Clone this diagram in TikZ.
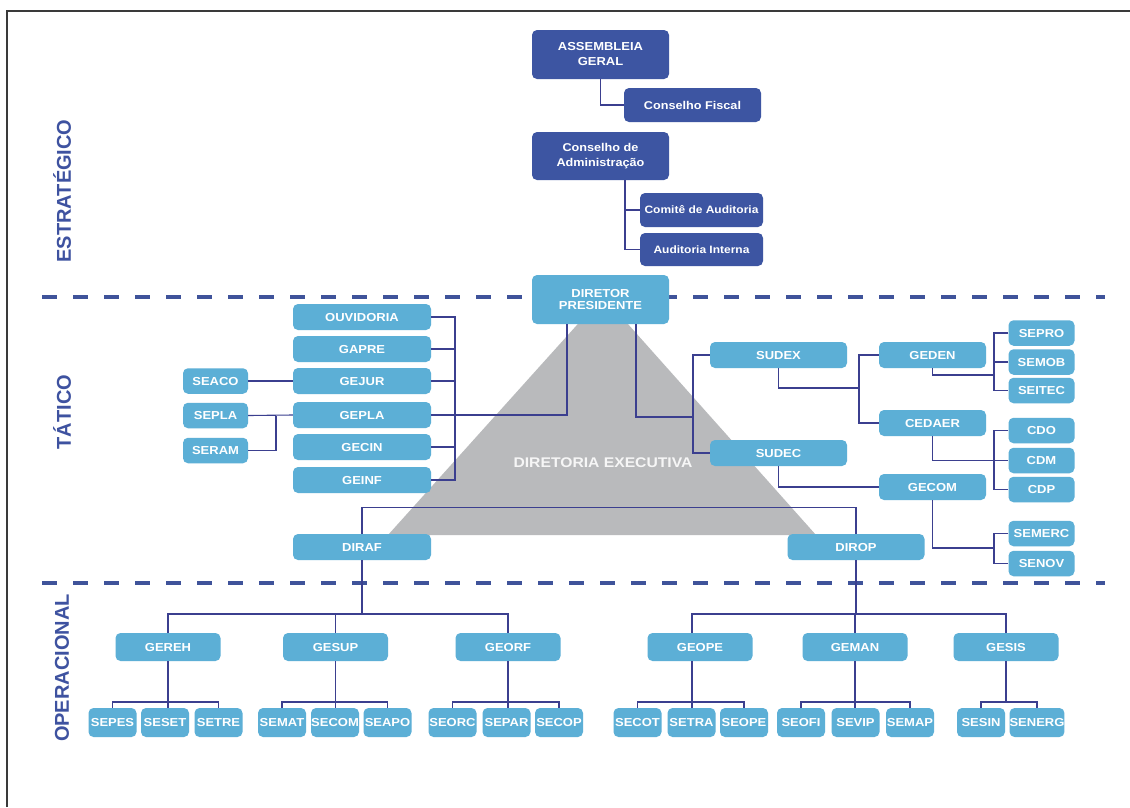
\documentclass[tikz,border=0pt]{standalone}
\usepackage{fontspec}
\setmainfont{Liberation Sans}[FakeStretch=1.12]
\newfontfamily\sidefont{Liberation Sans}
\usetikzlibrary{calc}
\definecolor{dkbox}{HTML}{3D55A2}
\definecolor{ltbox}{HTML}{5CAFD6}
\definecolor{conncol}{HTML}{3B3F8F}
\definecolor{dashcol}{HTML}{3F539A}
\definecolor{tricol}{HTML}{B9BABC}
\definecolor{sidecol}{HTML}{3E52A0}
\definecolor{framecol}{HTML}{3A3A3A}
\begin{document}
\begin{tikzpicture}[x=1pt,y=-1pt,
  box/.style={rounded corners=5pt, inner sep=0pt, text=white, align=center,
    font=\bfseries\fontsize{11.6}{11.6}\selectfont},
  dkb/.style={box, fill=dkbox},
  ltb/.style={box, fill=ltbox},
  midb/.style={ltb, minimum width=138pt, minimum height=26pt},
  subb/.style={ltb, minimum width=65pt, minimum height=25.5pt},
  gerb/.style={ltb, minimum width=107pt, minimum height=26pt},
  opb/.style={ltb, minimum width=105pt, minimum height=28pt},
  chb/.style={ltb, minimum width=48pt, minimum height=29pt},
  link/.style={draw=conncol, line width=1.1pt},
  dashline/.style={draw=dashcol, line width=3.6pt, dash pattern=on 15pt off 16pt},
  side/.style={text=sidecol, font=\sidefont\bfseries\fontsize{20}{20}\selectfont, rotate=90, inner sep=0pt}
]
\useasboundingbox (0,0) rectangle (1130,807);
\fill[white] (0,0) rectangle (1130,807);
\draw[framecol, line width=1.3pt] (7,807) -- (7,11) -- (1130,11);

% triangle
\fill[tricol] (603,296) -- (816,535) -- (388,535) -- cycle;
\node[text=white!93!gray, font=\bfseries\fontsize{14}{14}\selectfont, inner sep=0pt] (direx) at (603,463) {DIRETORIA EXECUTIVA};

% dashed level separators
\draw[dashline, dash phase=0pt] (42,297) -- (1105,297);
\draw[dashline, dash phase=0pt] (42,583) -- (1105,583);

% side labels
\node[side] (lestr) at (62,191) {ESTRATÉGICO};
\node[side] (ltat) at (62,412) {TÁTICO};
\node[side] (lop) at (62,668) {OPERACIONAL};

% coordinates for buses
\coordinate (lbus) at (455,317);
\coordinate (sj) at (276,450);
\coordinate (rb) at (693,417);
\coordinate (mb) at (859,388);
\coordinate (eb) at (994,375);
\coordinate (gb) at (994,548);
\coordinate (ob) at (0,614);
\coordinate (cb) at (0,702);

% strategic boxes
\node[dkb, minimum width=137pt, minimum height=49pt, font=\bfseries\fontsize{11.6}{15}\selectfont] (asm) at (600.5,54.5) {ASSEMBLEIA\\GERAL};
\node[dkb, minimum width=137pt, minimum height=34pt, font=\bfseries\fontsize{11.3}{12}\selectfont] (cfis) at (692.5,105) {Conselho Fiscal};
\node[dkb, minimum width=137pt, minimum height=48pt, font=\bfseries\fontsize{11.3}{15.5}\selectfont] (cadm) at (600.5,156) {Conselho de\\Administração};
\node[dkb, minimum width=123pt, minimum height=34pt, font=\bfseries\fontsize{10.7}{12}\selectfont] (comite) at (701.5,210) {Comitê de Auditoria};
\node[dkb, minimum width=123pt, minimum height=33pt, font=\bfseries\fontsize{10.7}{12}\selectfont] (audint) at (701.5,249.5) {Auditoria Interna};

% tactical
\node[ltb, minimum width=137pt, minimum height=49pt, font=\bfseries\fontsize{11.6}{11.5}\selectfont] (dp) at (600.5,299.5) {DIRETOR\\PRESIDENTE};
\node[midb] (ouv) at (362,317) {OUVIDORIA};
\node[midb] (gapre) at (362,349) {GAPRE};
\node[midb] (gejur) at (362,381) {GEJUR};
\node[midb] (gepla) at (362,415) {GEPLA};
\node[midb] (gecin) at (362,447) {GECIN};
\node[midb] (geinf) at (362,480) {GEINF};
\node[subb] (seaco) at (215.5,381) {SEACO};
\node[subb] (sepla) at (215.5,415.5) {SEPLA};
\node[subb] (seram) at (215.5,450.5) {SERAM};
\node[midb, minimum width=137pt] (sudex) at (778.5,355) {SUDEX};
\node[midb, minimum width=137pt] (sudec) at (778.5,453) {SUDEC};
\node[gerb] (geden) at (932.5,355) {GEDEN};
\node[gerb] (cedaer) at (932.5,423) {CEDAER};
\node[gerb] (gecom) at (932.5,487) {GECOM};
\node[subb, minimum width=66pt] (sepro) at (1041.5,333) {SEPRO};
\node[subb, minimum width=66pt] (semob) at (1041.5,362) {SEMOB};
\node[subb, minimum width=66pt] (seitec) at (1041.5,390.5) {SEITEC};
\node[subb, minimum width=66pt] (cdo) at (1041.5,430.5) {CDO};
\node[subb, minimum width=66pt] (cdm) at (1041.5,460.5) {CDM};
\node[subb, minimum width=66pt] (cdp) at (1041.5,489.5) {CDP};
\node[subb, minimum width=66pt] (semerc) at (1041.5,533.5) {SEMERC};
\node[subb, minimum width=66pt] (senov) at (1041.5,563.5) {SENOV};
\node[midb, minimum width=137pt] (dirop) at (856,547) {DIROP};
\node[midb] (diraf) at (362,547) {DIRAF};

% operational
\node[opb] (gereh) at (168,647) {GEREH};
\node[opb] (gesup) at (335.5,647) {GESUP};
\node[opb] (georf) at (508,647) {GEORF};
\node[opb] (geope) at (700,647) {GEOPE};
\node[opb] (geman) at (855,647) {GEMAN};
\node[opb] (gesis) at (1006,647) {GESIS};
\node[chb] (sepes) at (112.5,722.5) {SEPES};
\node[chb] (seset) at (165,722.5) {SESET};
\node[chb] (setre) at (218.5,722.5) {SETRE};
\node[chb] (semat) at (282,722.5) {SEMAT};
\node[chb] (secom) at (335,722.5) {SECOM};
\node[chb] (seapo) at (387.5,722.5) {SEAPO};
\node[chb] (seorc) at (452.5,722.5) {SEORC};
\node[chb] (separ) at (506.5,722.5) {SEPAR};
\node[chb] (secop) at (559,722.5) {SECOP};
\node[chb] (secot) at (637.5,722.5) {SECOT};
\node[chb] (setra) at (691.5,722.5) {SETRA};
\node[chb] (seope) at (744,722.5) {SEOPE};
\node[chb] (seofi) at (801,722.5) {SEOFI};
\node[chb] (sevip) at (855.5,722.5) {SEVIP};
\node[chb] (semap) at (910,722.5) {SEMAP};
\node[chb] (sesin) at (981,722.5) {SESIN};
\node[chb, minimum width=50pt] (senerg) at (1037,722.5) {SENERG};

% connectors (drawn on background layer order: after boxes but lines end at box borders)
\begin{scope}[on background layer/.try]
\end{scope}
\draw[link] (asm.south) |- (cfis.west);
\draw[link] ([xshift=24.5pt]cadm.south) |- (comite.west);
\draw[link] ([xshift=24.5pt]cadm.south) |- (audint.west);

\draw[link] (ouv.east) -- (ouv.east -| lbus) -- (geinf.east -| lbus) -- (geinf.east);
\foreach \n in {gapre,gejur,gecin} \draw[link] (\n.east) -- (\n.east -| lbus);
\draw[link] (gepla.east) -| ([xshift=-33.5pt]dp.south);
\draw[link] (seaco.east) -- (gejur.west);
\draw[link] (sepla.east) -- (gepla.west);
\draw[link] (seram.east) -| (sepla.east -| sj);

\draw[link] ([xshift=35.5pt]dp.south) |- (rb);
\draw[link] (sudex.west) -| (rb) |- (sudec.west);
\draw[link] (sudex.south) |- (mb);
\draw[link] (geden.west) -| (mb) |- (cedaer.west);
\draw[link] (geden.south) |- (eb);
\draw[link] (sepro.west) -| (eb) |- (seitec.west);
\draw[link] (semob.west) -- (semob.west -| eb);
\draw[link] (cedaer.south) |- (cdm.west);
\draw[link] (cdo.west) -- (cdo.west -| eb) -- (cdp.west -| eb) -- (cdp.west);
\draw[link] (sudec.south) |- (gecom.west);
\draw[link] (gecom.south) |- (gb);
\draw[link] (semerc.west) -| (gb) |- (senov.west);
\draw[link] (dirop.north) |- ([yshift=26pt]diraf.north) -- (diraf.north);

\draw[link] (gereh.north) -- (gereh.north |- ob) -- (georf.north |- ob) -- (georf.north);
\draw[link] (gesup.north) -- (gesup.north |- ob);
\draw[link] (diraf.south) -- (diraf.south |- ob);
\draw[link] ([xshift=-8pt]geope.north) -- ([xshift=-8pt]geope.north |- ob) -- (gesis.north |- ob) -- (gesis.north);
\draw[link] (geman.north) -- (geman.north |- ob);
\draw[link] (dirop.south) -- (dirop.south |- ob);

\foreach \p/\a/\m/\b in {gereh/sepes/seset/setre, gesup/semat/secom/seapo, georf/seorc/separ/secop, geman/seofi/sevip/semap} {
  \draw[link] (\a.north) -- (\a.north |- cb) -- (\b.north |- cb) -- (\b.north);
  \draw[link] (\p.south) -- (\p.south |- \m.north);
}
\draw[link] (secot.north) -- (secot.north |- cb) -- (seope.north |- cb) -- (seope.north);
\draw[link] ([xshift=-8pt]geope.south) -- ([xshift=-8pt]geope.south |- setra.north);
\draw[link] (sesin.north) -- (sesin.north |- cb) -- (senerg.north |- cb) -- (senerg.north);
\draw[link] (gesis.south) -- (gesis.south |- cb);
\end{tikzpicture}
\end{document}
